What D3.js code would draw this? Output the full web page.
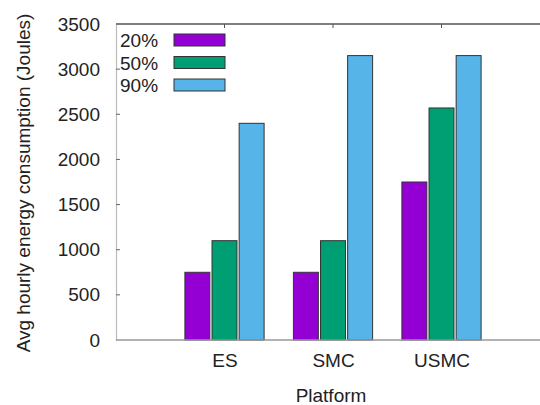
<!DOCTYPE html>
<html><head><meta charset="utf-8">
<script src="https://cdn.jsdelivr.net/npm/d3@7"></script>
<style>body{margin:0;background:#fff}svg{display:block}text{font-family:"Liberation Sans",Arial,sans-serif;fill:#222}</style>
</head><body><svg id="c" width="540" height="405"></svg>
<script>
const categories = ["ES", "SMC", "USMC"];
const seriesNames = ["20%", "50%", "90%"];
const s20 = [750, 750, 1750];
const s50 = [1100, 1100, 2570];
const s90 = [2400, 3150, 3150];
const yTicks = [0, 500, 1000, 1500, 2000, 2500, 3000, 3500];
const colors = ["#9400d3", "#009e73", "#56b4e9"];
const series = [s20, s50, s90];

const svg = d3.select("#c");
const pL = 116, pT = 24, pB = 340, pR = 550;
const fs = 19;
const x = d3.scaleLinear().domain([0, 4]).range([pL, pR]);
const y = d3.scaleLinear().domain([0, 3500]).range([pB, pT]);
const bw = 0.23, step = 0.25;

// bars
series.forEach((vals, j) => {
  svg.append("g").selectAll("rect").data(vals).join("rect")
    .attr("x", (d, i) => x(i + 1 + (j - 1) * step - bw / 2))
    .attr("width", x(bw) - x(0))
    .attr("y", d => y(d))
    .attr("height", d => y(0) - y(d))
    .attr("fill", colors[j])
    .attr("stroke", "#333")
    .attr("stroke-width", 1);
});

// left axis
const ya = svg.append("g").attr("transform", `translate(${pL},0)`)
  .call(d3.axisLeft(y).tickValues(yTicks).tickFormat(d3.format("d")).tickSize(0).tickPadding(16));
ya.select(".domain").attr("stroke", "#bbb").attr("stroke-width", 1.2);
ya.selectAll("text").attr("font-size", fs).attr("fill", "#222")
  .style("font-family", '"Liberation Sans",Arial,sans-serif');
svg.append("g").selectAll("line").data(yTicks.slice(1, -1)).join("line")
  .attr("x1", pL).attr("x2", pL + 4).attr("y1", d => y(d)).attr("y2", d => y(d))
  .attr("stroke", "#666").attr("stroke-width", 1);

// frame top/bottom
svg.append("line").attr("x1", pL).attr("x2", 540).attr("y1", pT).attr("y2", pT)
  .attr("stroke", "#555").attr("stroke-width", 1.5);
svg.append("line").attr("x1", pL).attr("x2", 540).attr("y1", pB).attr("y2", pB)
  .attr("stroke", "#999").attr("stroke-width", 1.5);
svg.append("g").selectAll("line").data(categories).join("line")
  .attr("x1", (d, i) => x(i + 1)).attr("x2", (d, i) => x(i + 1))
  .attr("y1", pT).attr("y2", pT + 4).attr("stroke", "#555").attr("stroke-width", 1);

// x labels
const xa = svg.append("g").attr("transform", `translate(0,${pB})`)
  .call(d3.axisBottom(x).tickValues([1, 2, 3]).tickFormat((d) => categories[d - 1]).tickSize(0).tickPadding(14));
xa.select(".domain").remove();
xa.selectAll("text").attr("font-size", fs).attr("fill", "#222")
  .style("font-family", '"Liberation Sans",Arial,sans-serif');

svg.append("text").attr("x", 331).attr("y", 402).attr("text-anchor", "middle")
  .attr("font-size", fs).text("Platform");
svg.append("text").attr("transform", "translate(30,183) rotate(-90)")
  .attr("text-anchor", "middle").attr("font-size", fs)
  .text("Avg hourly energy consumption (Joules)");

// legend
const lg = svg.append("g").selectAll("g").data(seriesNames).join("g")
  .attr("transform", (d, i) => `translate(0,${40 + i * 22.5})`);
lg.append("text").attr("x", 120).attr("y", 7).attr("font-size", fs).text(d => d);
lg.append("rect").attr("x", 174).attr("y", -6).attr("width", 51).attr("height", 12)
  .attr("fill", (d, i) => colors[i]).attr("stroke", "#333").attr("stroke-width", 1);
</script></body></html>
